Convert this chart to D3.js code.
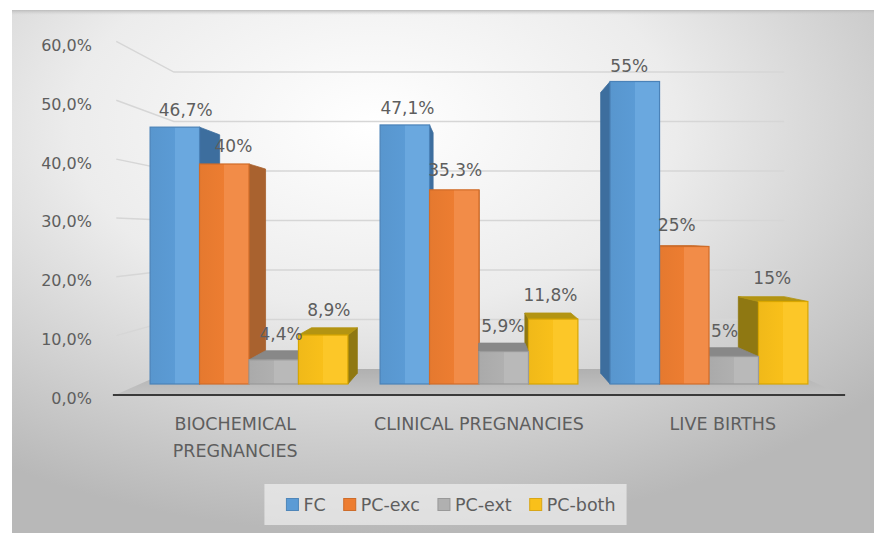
<!DOCTYPE html>
<html>
<head>
<meta charset="utf-8">
<script src="https://cdn.jsdelivr.net/npm/d3@7"></script>
<style>
  html, body { margin: 0; padding: 0; background: #ffffff; }
  svg { display: block; }
  text { font-family: "DejaVu Sans", "Open Sans", sans-serif; fill: #5e5e5e; }
</style>
</head>
<body>
<svg id="chart" width="874" height="533"></svg>
<script>
// ---- data ----
const categories = ["BIOCHEMICAL PREGNANCIES", "CLINICAL PREGNANCIES", "LIVE BIRTHS"];
const seriesNames = ["FC", "PC-exc", "PC-ext", "PC-both"];
const fcValues = [46.7, 47.1, 55];
const pcExcValues = [40, 35.3, 25];
const pcExtValues = [4.4, 5.9, 5];
const pcBothValues = [8.9, 11.8, 15];
const yTicks = [0, 10, 20, 30, 40, 50, 60];

const seriesValues = [fcValues, pcExcValues, pcExtValues, pcBothValues];

// face colours per series
const palette = {
  "FC":      { front: "#5b9bd5", light: "#6aa8df", side: "#3d6e9e", top: "#4a80b4", stroke: "#4a82b8" },
  "PC-exc":  { front: "#ed7d31", light: "#f28c48", side: "#a9622f", top: "#c76a2a", stroke: "#d06c28" },
  "PC-ext":  { front: "#b0b0b0", light: "#b9b9b9", side: "#7d7d7d", top: "#888888", stroke: "#9a9a9a" },
  "PC-both": { front: "#f9c01a", light: "#fcc728", side: "#8f7812", top: "#b39412", stroke: "#d8a600" }
};

const W = 874, H = 533;
const svg = d3.select("#chart");
const defs = svg.append("defs");

// ---- perspective set-up ----
const VX = 479, HY = 234;          // vanishing point
const S_FLOOR = 1.08;              // front edge of floor
const S_AXIS = 1.07;               // left axis edge
const S_LABEL = 1.06;              // category label anchor depth
const S_BACK = 0.928;              // back face of the columns
const S_WALL = 0.9;                // back wall
const S_MID = (1 + S_BACK) / 2;
const proj = (px, py, s) => [VX + (px - VX) * s, HY + (py - HY) * s];

// scales in the plane of the column fronts
const y = d3.scaleLinear().domain([0, 60]).range([384, 54]);
const x0 = d3.scaleBand().domain(categories).range([134, 824]).paddingInner(0.14).paddingOuter(0.07);
const x1 = d3.scaleBand().domain(seriesNames).range([0, x0.bandwidth()]);
const plane = [140, 818];

const fmtValue = v => (Number.isInteger(v) ? String(v) : v.toFixed(1).replace(".", ",")) + "%";
const fmtTick = v => v.toFixed(1).replace(".", ",") + "%";

// ---- background ----
const bg = defs.append("radialGradient").attr("id", "bg")
  .attr("cx", "42%").attr("cy", "22%").attr("r", "78%");
bg.append("stop").attr("offset", "0%").attr("stop-color", "#ffffff");
bg.append("stop").attr("offset", "45%").attr("stop-color", "#ececec");
bg.append("stop").attr("offset", "100%").attr("stop-color", "#b8b8b8");
svg.append("rect").attr("x", 12).attr("y", 10).attr("width", W - 12).attr("height", H - 10)
  .attr("fill", "url(#bg)");
const topShade = defs.append("linearGradient").attr("id", "topShade")
  .attr("x1", 0).attr("y1", 0).attr("x2", 0).attr("y2", 1);
topShade.append("stop").attr("offset", "0%").attr("stop-color", "#b8b8b8").attr("stop-opacity", 0.9);
topShade.append("stop").attr("offset", "100%").attr("stop-color", "#d0d0d0").attr("stop-opacity", 0);
svg.append("rect").attr("x", 12).attr("y", 10).attr("width", W - 12).attr("height", 5).attr("fill", "url(#topShade)");

const line = d3.line();

// ---- floor ----
const floorPts = [
  proj(plane[0], y(0), S_FLOOR), proj(plane[1], y(0), S_FLOOR),
  proj(plane[1], y(0), S_WALL), proj(plane[0], y(0), S_WALL)
];
const floorGrad = defs.append("linearGradient").attr("id", "floorGrad")
  .attr("x1", 0).attr("y1", 0).attr("x2", 0).attr("y2", 1);
floorGrad.append("stop").attr("offset", "0%").attr("stop-color", "#b0b0b0");
floorGrad.append("stop").attr("offset", "100%").attr("stop-color", "#c4c4c4");
svg.append("path").attr("d", line(floorPts) + "Z").attr("fill", "url(#floorGrad)");

// ---- gridlines on the back wall and left wall ----
const grid = svg.append("g");
yTicks.filter(v => v > 0).forEach(v => {
  const a = proj(plane[0], y(v), S_AXIS);
  const b = proj(plane[0], y(v), S_WALL);
  const c = proj(plane[1], y(v), S_WALL);
  grid.append("path").attr("d", line([a, b, c]))
    .attr("fill", "none").attr("stroke", "#d6d6d6").attr("stroke-width", 1.4);
});

// ---- y tick labels ----
svg.append("g").selectAll("text").data(yTicks).join("text")
  .attr("x", 92)
  .attr("y", v => proj(plane[0], y(v), S_AXIS)[1] + 4)
  .attr("text-anchor", "end")
  .attr("dominant-baseline", "central")
  .attr("font-size", 16)
  .text(fmtTick);

// ---- columns ----
seriesNames.forEach(name => {
  const c = palette[name];
  const g = defs.append("linearGradient").attr("id", "front-" + name)
    .attr("x1", 0).attr("y1", 0).attr("x2", 1).attr("y2", 0);
  g.append("stop").attr("offset", "0%").attr("stop-color", d3.color(c.front).darker(0.1));
  g.append("stop").attr("offset", "50%").attr("stop-color", c.front);
  g.append("stop").attr("offset", "50%").attr("stop-color", c.light);
  g.append("stop").attr("offset", "100%").attr("stop-color", c.light);
});

const bars = [];
categories.forEach((cat, ci) => {
  seriesNames.forEach((name, si) => {
    const v = seriesValues[si][ci];
    const bx0 = x0(cat) + x1(name);
    const bx1 = bx0 + x1.bandwidth();
    bars.push({ cat, name, v, bx0, bx1, cx: (bx0 + bx1) / 2 });
  });
});
// paint the columns furthest from the vanishing line first
bars.sort((a, b) => Math.abs(b.cx - VX) - Math.abs(a.cx - VX));

const barLayer = svg.append("g");
bars.forEach(d => {
  const c = palette[d.name];
  const yt = y(d.v), yb = y(0);
  const g = barLayer.append("g");
  const sideX = d.cx < VX ? d.bx1 : d.bx0;
  g.append("path")
    .attr("d", line([proj(sideX, yt, 1), proj(sideX, yt, S_BACK), proj(sideX, yb, S_BACK), proj(sideX, yb, 1)]) + "Z")
    .attr("fill", c.side).attr("stroke", c.side).attr("stroke-width", 0.8);
  if (yt > HY) {
    g.append("path")
      .attr("d", line([proj(d.bx0, yt, 1), proj(d.bx1, yt, 1), proj(d.bx1, yt, S_BACK), proj(d.bx0, yt, S_BACK)]) + "Z")
      .attr("fill", c.top).attr("stroke", c.top).attr("stroke-width", 0.8);
  }
  g.append("rect")
    .attr("x", d.bx0).attr("y", yt)
    .attr("width", d.bx1 - d.bx0).attr("height", yb - yt)
    .attr("fill", "url(#front-" + d.name + ")")
    .attr("stroke", c.stroke).attr("stroke-width", 1.2);
});

// ---- floor front edge ----
const fl = proj(plane[0], y(0), S_FLOOR), fr = proj(plane[1], y(0), S_FLOOR);
svg.append("line").attr("x1", fl[0]).attr("x2", fr[0]).attr("y1", fl[1] - 1).attr("y2", fr[1] - 1)
  .attr("stroke", "#3a3a3a").attr("stroke-width", 2.2);

// ---- value labels ----
svg.append("g").selectAll("text").data(bars).join("text")
  .attr("x", d => proj(d.cx, y(d.v), S_MID)[0])
  .attr("y", d => proj(d.cx, y(d.v), S_MID)[1] - 21)
  .attr("text-anchor", "middle")
  .attr("dominant-baseline", "central")
  .attr("font-size", 17)
  .text(d => fmtValue(d.v));

// ---- category labels, wrapped to the category width ----
const catLayer = svg.append("g");
categories.forEach(cat => {
  const cx = proj(x0(cat) + x0.bandwidth() / 2, y(0), S_LABEL)[0];
  const t = catLayer.append("text")
    .attr("x", cx).attr("y", 424)
    .attr("text-anchor", "middle").attr("dominant-baseline", "central")
    .attr("font-size", 17.5);
  const words = cat.split(" ");
  let lines = [cat];
  t.text(cat);
  if (t.node().getComputedTextLength() > 236 && words.length > 1) {
    lines = [words.slice(0, words.length - 1).join(" "), words[words.length - 1]];
  }
  t.text(null);
  lines.forEach((ln, i) => {
    t.append("tspan").attr("x", cx).attr("dy", i === 0 ? 0 : 27).text(ln);
  });
});

// ---- legend ----
const legend = svg.append("g");
const legendBox = legend.append("rect")
  .attr("y", 484).attr("height", 41).attr("fill", "#efefef").attr("opacity", 0.7);
const items = legend.selectAll("g.item").data(seriesNames).join("g").attr("class", "item");
items.append("rect")
  .attr("width", 12).attr("height", 12).attr("y", 498.5)
  .attr("fill", d => palette[d].front).attr("stroke", d => d3.color(palette[d].front).darker(0.4)).attr("stroke-width", 1);
items.append("text")
  .attr("x", 17).attr("y", 505).attr("dominant-baseline", "central")
  .attr("font-size", 17.5)
  .text(d => d);
let widths = [];
items.each(function () { widths.push(this.querySelector("text").getComputedTextLength() + 17); });
const gap = 18;
const total = d3.sum(widths) + gap * (widths.length - 1);
const legendCenter = 451;
let lx = legendCenter - total / 2;
items.each(function (d, i) {
  d3.select(this).attr("transform", `translate(${lx},0)`);
  lx += widths[i] + gap;
});
legendBox.attr("x", legendCenter - total / 2 - 22).attr("width", total + 33);
</script>
</body>
</html>
